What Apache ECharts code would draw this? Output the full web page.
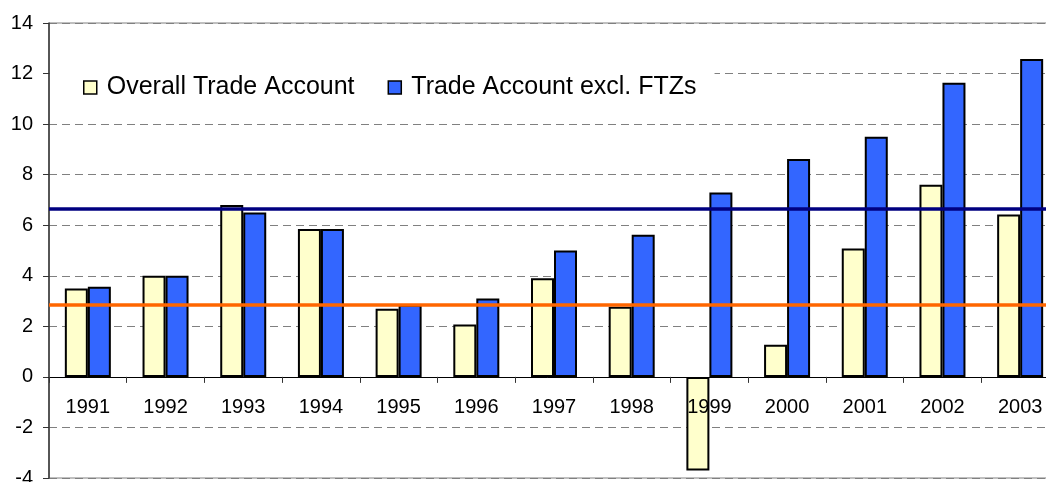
<!DOCTYPE html>
<html>
<head>
<meta charset="utf-8">
<title>Trade Account</title>
<script src="https://cdn.jsdelivr.net/npm/echarts@6/dist/echarts.min.js"></script>
<style>
  html, body { margin: 0; padding: 0; background: #fff; overflow: hidden; }
  #main { width: 1046px; height: 482px; }
</style>
</head>
<body>
<div id="main"></div>
<script>
// categories
var years = ['1991', '1992', '1993', '1994', '1995', '1996', '1997', '1998', '1999', '2000', '2001', '2002', '2003'];
// series values
var overallTrade = [3.5, 4.0, 6.8, 5.85, 2.7, 2.07, 3.9, 2.77, -3.7, 1.27, 5.08, 7.6, 6.42];
var tradeExclFtz = [3.57, 4.0, 6.5, 5.85, 2.85, 3.1, 5.0, 5.62, 7.29, 8.62, 9.5, 11.64, 12.58];
// reference levels (horizontal lines)
var overallLevel = 2.85;
var exclFtzLevel = 6.65;
// y ticks
var yMin = -4, yMax = 14, yStep = 2;

var font = 'Liberation Sans, Arial, sans-serif';
var gridTop = 23, gridHeight = 455;
// x axis sits on y = 0, moved up from the grid bottom
var zeroOffset = -gridHeight * (0 - yMin) / (yMax - yMin);

var chart = echarts.init(document.getElementById('main'));
var option = {
  backgroundColor: '#fff',
  animation: false,
  textStyle: { fontFamily: font },
  grid: {
    left: 49,
    top: gridTop,
    width: 1010,
    height: gridHeight,
    containLabel: false,
    outerBoundsMode: 'none',
    show: true,
    borderColor: '#808080',
    borderWidth: 1,
    backgroundColor: 'transparent'
  },
  legend: {
    left: 50,
    top: 60,
    padding: [15, 18, 15, 33],
    backgroundColor: '#fff',
    icon: 'rect',
    itemWidth: 13,
    itemHeight: 13,
    itemGap: 33,
    itemStyle: { borderColor: '#000', borderWidth: 1.5 },
    textStyle: { fontSize: 25, color: '#000', fontFamily: font, padding: [0, 0, 0, 5] },
    data: ['Overall Trade Account', 'Trade Account excl. FTZs']
  },
  xAxis: {
    type: 'category',
    data: years,
    offset: zeroOffset,
    z: 5,
    axisLine: { onZero: false, lineStyle: { color: '#000', width: 1 } },
    axisTick: { show: true, length: 6, lineStyle: { color: '#333' } },
    axisLabel: { color: '#000', fontSize: 20, margin: 21, fontFamily: font },
    splitLine: { show: false }
  },
  yAxis: {
    type: 'value',
    min: yMin,
    max: yMax,
    interval: yStep,
    axisLine: { show: true, lineStyle: { color: '#333', width: 1.5 } },
    axisTick: { show: true, length: 6, lineStyle: { color: '#333' } },
    axisLabel: { color: '#000', fontSize: 20, margin: 16, fontFamily: font },
    splitLine: { show: true, lineStyle: { color: '#808080', type: [8, 5], width: 1 } }
  },
  series: [
    {
      name: 'Overall Trade Account',
      type: 'bar',
      data: overallTrade,
      barWidth: 23,
      barGap: '0%',
      itemStyle: { color: '#FFFFCC', borderColor: '#000', borderWidth: 2 },
      markLine: {
        silent: true,
        symbol: 'none',
        label: { show: false },
        lineStyle: { color: '#FF6600', width: 3.5, type: 'solid' },
        data: [{ yAxis: overallLevel }]
      }
    },
    {
      name: 'Trade Account excl. FTZs',
      type: 'bar',
      data: tradeExclFtz,
      barWidth: 23,
      barGap: '0%',
      itemStyle: { color: '#3366FF', borderColor: '#000', borderWidth: 2 },
      markLine: {
        silent: true,
        symbol: 'none',
        label: { show: false },
        lineStyle: { color: '#000080', width: 3.5, type: 'solid' },
        data: [{ yAxis: exclFtzLevel }]
      }
    }
  ]
};
chart.setOption(option);
</script>
</body>
</html>
